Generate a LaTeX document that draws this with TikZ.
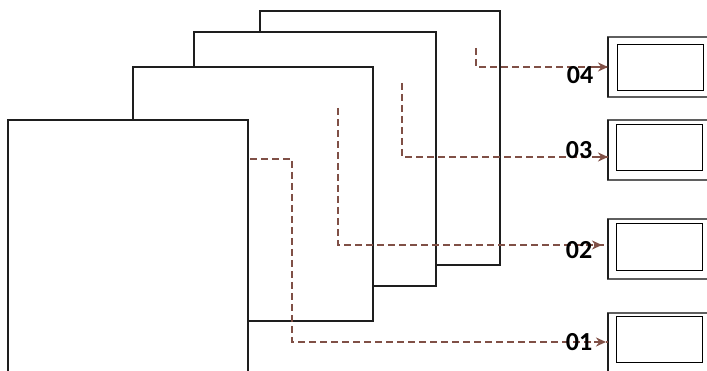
\documentclass[tikz,border=0pt]{standalone}
\usepackage{fontspec}
\setmainfont{Carlito}
\usetikzlibrary{arrows.meta}
\definecolor{flowc}{RGB}{128,80,70}
\definecolor{edgec}{RGB}{30,30,30}
\definecolor{boxc}{RGB}{95,95,95}
\tikzset{
  x=1pt,y=-1pt,
  sheetbox/.style={draw=edgec,fill=white,line width=2.6pt,anchor=north west,inner sep=0pt,outer sep=0pt},
  outbox/.style={draw=boxc,fill=white,line width=2.8pt,anchor=north west,inner sep=0pt,outer sep=0pt,minimum width=102pt,minimum height=60pt},
  inbox/.style={draw=black,line width=1.4pt,anchor=north west,inner sep=0pt,minimum width=86pt},
  flow/.style={draw=flowc,line width=2.8pt,dash pattern=on 7pt off 4pt},
  flowtip/.style={-{Stealth[length=10pt,width=9pt]}},
  lbl/.style={font=\bfseries\fontsize{26}{28}\selectfont,inner sep=0pt,text=black}
}
\begin{document}
\begin{tikzpicture}
\useasboundingbox (0,0) rectangle (707,371);
\clip (0,0) rectangle (707,371);
% sheets, back to front
\node[sheetbox,minimum width=240pt,minimum height=254pt] (s4) at (260,11) {};
\node[sheetbox,minimum width=242pt,minimum height=254pt] (s3) at (194,32) {};
\node[sheetbox,minimum width=240pt,minimum height=254pt] (s2) at (133,67) {};
\node[sheetbox,minimum width=240pt,minimum height=254pt] (s1) at (8,120) {};
% output boxes
\node[outbox] (b4) at (608,37) {};
\node[outbox] (b3) at (608,120) {};
\node[outbox] (b2) at (608,219) {};
\node[outbox] (b1) at (608,313) {};
\draw[edgec,line width=2.8pt] (b4.north west) -- (b4.south west);
\draw[edgec,line width=2.8pt] (b3.north west) -- (b3.south west);
\draw[edgec,line width=2.8pt] (b2.north west) -- (b2.south west);
\draw[edgec,line width=2.8pt] (b1.north west) -- (b1.south west);
\node[inbox,minimum height=46pt] (i4) at (617,44) {};
\node[inbox,minimum height=46pt] (i3) at (616,124) {};
\node[inbox,minimum height=47pt] (i2) at (616,223) {};
\node[inbox,minimum height=46pt] (i1) at (616,316) {};
% flows
\coordinate (p4) at (476,48);
\coordinate (p3) at (402,83);
\coordinate (p2) at (338,108);
\coordinate (p1) at (250,159);
\coordinate (c1) at (292,159);
\draw[flow] (p4) |- (b4.west);
\draw[flow] (p3) |- ([yshift=-7pt]b3.west);
\draw[flow] (p2) |- ([yshift=4pt]b2.west);
\draw[flow] (p1) -- (c1) |- ([yshift=1pt]b1.west);
\draw[flowc,flowtip,line width=2.8pt] ([xshift=-14pt]b4.west) -- (b4.west);
\draw[flowc,flowtip,line width=2.8pt] ([xshift=-14pt,yshift=-7pt]b3.west) -- ([yshift=-7pt]b3.west);
\draw[flowc,flowtip,line width=2.8pt] ([xshift=-14pt,yshift=4pt]b2.west) -- ([xshift=-6pt,yshift=4pt]b2.west);
\draw[flowc,flowtip,line width=2.8pt] ([xshift=-14pt,yshift=1pt]b1.west) -- ([xshift=-2pt,yshift=1pt]b1.west);
% labels
\node[lbl] (l4) at (580,75) {04};
\node[lbl] (l3) at (579,150) {03};
\node[lbl] (l2) at (579,250) {02};
\node[lbl] (l1) at (579,342) {01};
\end{tikzpicture}
\end{document}
